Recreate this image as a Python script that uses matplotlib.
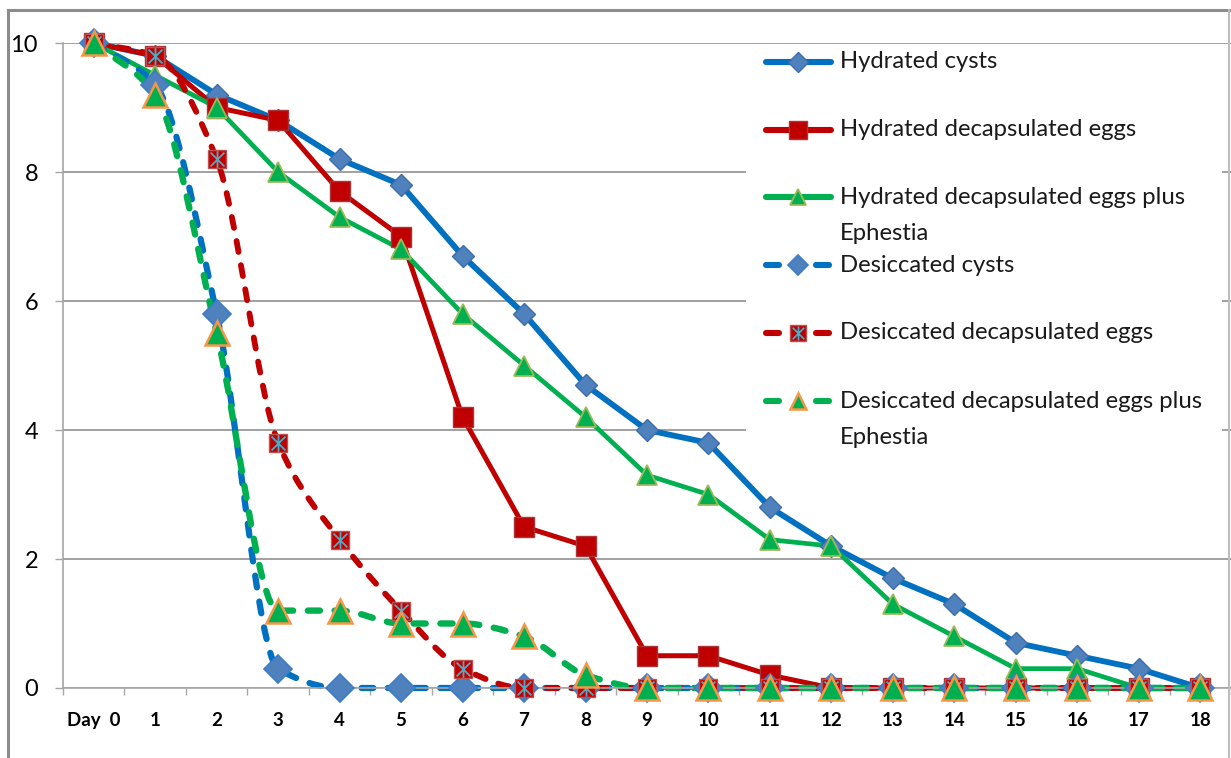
import numpy as np
import matplotlib
matplotlib.use("Agg")
import matplotlib.pyplot as plt
from matplotlib.path import Path
from matplotlib.patches import PathPatch, Rectangle

plt.rcParams['font.family'] = ['Lato', 'DejaVu Sans']

# survival counts per day
days = ["Day  0"] + [str(d) for d in range(1, 19)]

hydrated_cysts = [10, 9.8, 9.2, 8.8, 8.2, 7.8, 6.7, 5.8, 4.7, 4.0, 3.8, 2.8, 2.2, 1.7, 1.3, 0.7, 0.5, 0.3, 0]
hydrated_eggs = [10, 9.8, 9.0, 8.8, 7.7, 7.0, 4.2, 2.5, 2.2, 0.5, 0.5, 0.2, 0, 0, 0, 0, 0, 0, 0]
hydrated_eggs_eph = [10, 9.5, 9.0, 8.0, 7.3, 6.8, 5.8, 5.0, 4.2, 3.3, 3.0, 2.3, 2.2, 1.3, 0.8, 0.3, 0.3, 0, 0]
desiccated_cysts = [10, 9.35, 5.8, 0.3, 0, 0, 0, 0, 0, 0, 0, 0, 0, 0, 0, 0, 0, 0, 0]
desiccated_eggs = [10, 9.8, 8.2, 3.8, 2.3, 1.2, 0.3, 0, 0, 0, 0, 0, 0, 0, 0, 0, 0, 0, 0]
desiccated_eggs_eph = [10, 9.2, 5.5, 1.2, 1.2, 1.0, 1.0, 0.8, 0.2, 0, 0, 0, 0, 0, 0, 0, 0, 0, 0]

labels = ["Hydrated cysts",
          "Hydrated decapsulated eggs",
          "Hydrated decapsulated eggs plus\nEphestia",
          "Desiccated cysts",
          "Desiccated decapsulated eggs",
          "Desiccated decapsulated eggs plus\nEphestia"]

BLUE, RED, GREEN = '#0070C0', '#C00000', '#00B050'

# asterisk drawn on top of the desiccated egg squares (X plus a vertical bar)
STAR = Path([(-1, -1), (1, 1), (-1, 1), (1, -1), (0, -1.2), (0, 1.2)],
            [Path.MOVETO, Path.LINETO, Path.MOVETO, Path.LINETO, Path.MOVETO, Path.LINETO])

series = [
    dict(y=hydrated_cysts, color=BLUE, lw=4.2, dashed=False,
         marker='D', ms=10.8, mfc='#4F81BD', mec='#3D6DAA', mew=1.0, lms=10),
    dict(y=hydrated_eggs, color=RED, lw=3.6, dashed=False,
         marker='s', ms=14, mfc='#C00000', mec='#A8353A', mew=1.0, lms=12.5),
    dict(y=hydrated_eggs_eph, color=GREEN, lw=3.4, dashed=False,
         marker='^', ms=14, mfc='#00B050', mec='#9BBB59', mew=1.3, lms=12),
    dict(y=desiccated_cysts, color=BLUE, lw=4.5, dashed=True,
         marker='D', ms=13.8, mfc='#4F81BD', mec='#3D7CC9', mew=1.2, lms=10),
    dict(y=desiccated_eggs, color=RED, lw=4.2, dashed=True,
         marker='s', ms=13.5, mfc='#C00000', mec='#C0504D', mew=1.0, lms=12, star=True),
    dict(y=desiccated_eggs_eph, color=GREEN, lw=4.6, dashed=True,
         marker='^', ms=17.5, mfc='#00B050', mec='#F79646', mew=1.8, lms=12),
]


def smooth_path(x, y):
    """Cubic Bezier through the points with monotone (Fritsch-Carlson) tangents."""
    x = np.asarray(x, float)
    y = np.asarray(y, float)
    d = np.diff(y) / np.diff(x)
    m = np.empty_like(y)
    m[0], m[-1] = d[0], d[-1]
    for i in range(1, len(y) - 1):
        if d[i - 1] * d[i] > 0:
            m[i] = 2 * d[i - 1] * d[i] / (d[i - 1] + d[i])
        else:
            m[i] = 0.0
    verts = [(x[0], y[0])]
    codes = [Path.MOVETO]
    for i in range(len(x) - 1):
        h = x[i + 1] - x[i]
        verts += [(x[i] + h / 3, y[i] + m[i] * h / 3),
                  (x[i + 1] - h / 3, y[i + 1] - m[i + 1] * h / 3),
                  (x[i + 1], y[i + 1])]
        codes += [Path.CURVE4] * 3
    return Path(verts, codes)


W, H = 1231, 758
fig = plt.figure(figsize=(W / 100, H / 100), dpi=100)
fig.patch.set_facecolor('white')

ax = fig.add_axes([63 / W, 70 / H, 1168 / W, 645 / H])
x = np.arange(len(days))

# lines first, then all the markers on top
for i, s in enumerate(series):
    if s['dashed']:
        patch = PathPatch(smooth_path(x, s['y']), fill=False, edgecolor=s['color'],
                          lw=s['lw'], linestyle=(0, (1.9, 2.3)), capstyle='round',
                          joinstyle='round', zorder=2 + i * 0.01, clip_on=False)
        ax.add_patch(patch)
    else:
        ax.plot(x, s['y'], color=s['color'], lw=s['lw'], solid_joinstyle='round',
                solid_capstyle='round', zorder=2 + i * 0.01, clip_on=False)

for i, s in enumerate(series):
    ax.plot(x, s['y'], linestyle='none', marker=s['marker'], ms=s['ms'], mfc=s['mfc'],
            mec=s['mec'], mew=s['mew'], zorder=3 + i * 0.01, clip_on=False)
    if s.get('star'):
        ax.plot(x, s['y'], linestyle='none', marker=STAR, ms=12, mec='#4BACC6',
                mew=1.3, zorder=3 + i * 0.01 + 0.005, clip_on=False)

ax.set_xlim(-0.5, len(days) - 0.5)
ax.set_ylim(0, 10)
ax.set_yticks(np.arange(0, 11, 2))
ax.set_yticklabels([str(v) for v in range(0, 11, 2)])
ax.set_xticks(x)
ax.set_xticklabels(days, fontweight='bold', fontsize=13.5)
ax.set_xticks(np.arange(-0.5, len(days), 1), minor=True)
ax.tick_params(axis='x', which='major', length=0, pad=17)
ax.tick_params(axis='x', which='minor', length=5, width=1.0, color='#A6A6A6', direction='out')
ax.tick_params(axis='y', length=6, width=1.0, color='#A6A6A6', direction='out',
               labelsize=17, pad=12)

ax.grid(axis='y', color='#A0A0A0', lw=1.4)
ax.set_axisbelow(True)
for side in ['top', 'right']:
    ax.spines[side].set_visible(False)
for side in ['left', 'bottom']:
    ax.spines[side].set_color('#A6A6A6')
    ax.spines[side].set_linewidth(1.2)

# overlay in pixel units for the chart frame and the legend block
lax = fig.add_axes([0, 0, 1, 1], zorder=5)
lax.set_xlim(0, W)
lax.set_ylim(H, 0)
lax.axis('off')

lax.plot([8, 8], [10, H], color='#8C8C8C', lw=2.2)
lax.plot([8, 1229], [10, 10], color='#8C8C8C', lw=2.2)
lax.plot([1229, 1229], [10, H], color='#BDBDBD', lw=1.5)

lax.add_patch(Rectangle((746, 46), 476, 412, facecolor='white', edgecolor='none'))

entry_y = [62, 129.5, 197, 265, 332.5, 401]
for s, lab, ey in zip(series, labels, entry_y):
    if s['dashed']:
        for x0, x1 in [(766, 779), (816, 829)]:
            lax.plot([x0, x1], [ey, ey], color=s['color'], lw=4.4, solid_capstyle='round')
    else:
        lax.plot([766, 831], [ey, ey], color=s['color'], lw=4.4, solid_capstyle='round')
    lax.plot([798], [ey], linestyle='none', marker=s['marker'], ms=s['lms'], mfc=s['mfc'],
             mec=s['mec'], mew=s['mew'])
    if s.get('star'):
        lax.plot([798], [ey], linestyle='none', marker=STAR, ms=10, mec='#4BACC6', mew=1.2)
    for k, line in enumerate(lab.split('\n')):
        lax.text(840, ey + k * 36.5, line, fontsize=17.2, color='#1A1A1A',
                 ha='left', va='center')

fig.savefig('out.png', dpi=100, facecolor='white')
